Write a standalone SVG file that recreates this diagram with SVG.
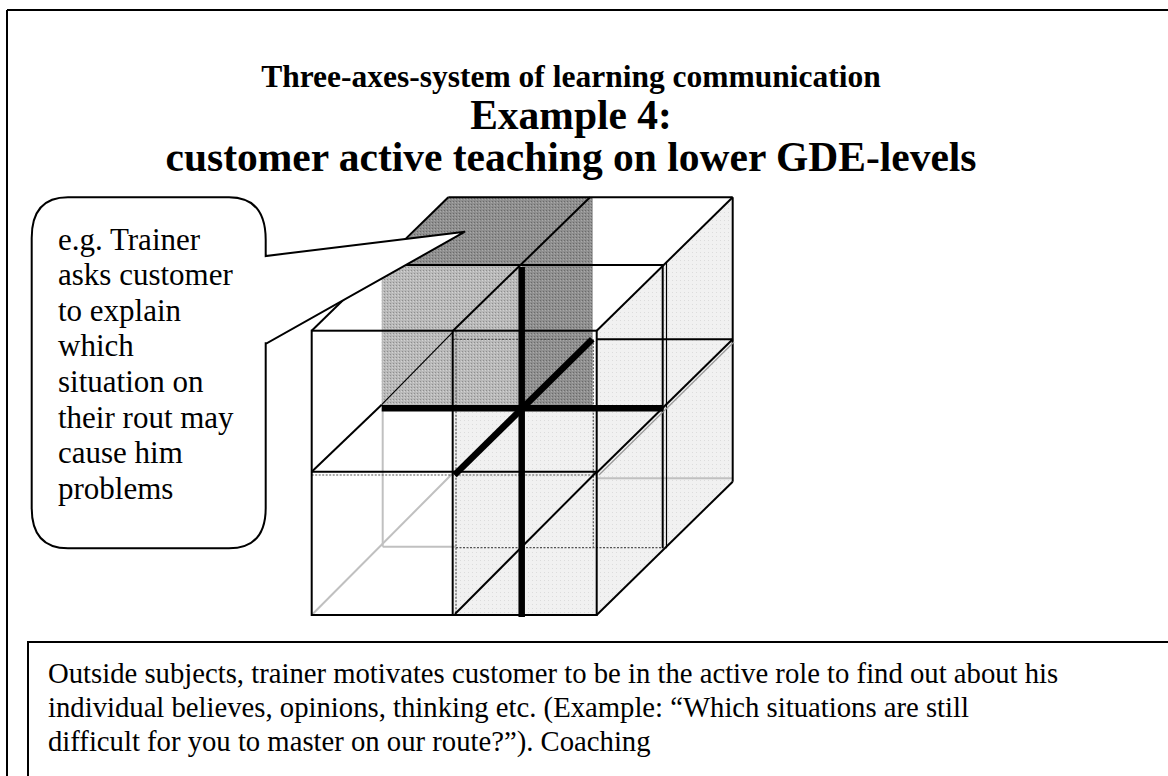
<svg xmlns="http://www.w3.org/2000/svg" width="1168" height="776" viewBox="0 0 1168 776">
  <style>
    .title { font-family: "Liberation Serif", "Times New Roman", serif; font-weight: bold; fill: #000; text-anchor: middle; }
    .body { font-family: "Liberation Serif", "Times New Roman", serif; fill: #000; }
    .edge { stroke: #000; stroke-width: 2; fill: none; }
    .thin { stroke: #000; stroke-width: 1.2; fill: none; }
    .hidden { stroke: #c0c0c0; stroke-width: 2; fill: none; }
    .dash { stroke: #555; stroke-width: 1.2; stroke-dasharray: 2 1.5; fill: none; }
    .axis { stroke: #000; stroke-width: 6.5; fill: none; stroke-linecap: butt; }
  </style>
  <defs>
    <pattern id="lightDots" width="4" height="4" patternUnits="userSpaceOnUse">
      <rect width="4" height="4" fill="#f1f1f1"/>
      <rect x="0" y="0" width="1" height="1" fill="#dcdcdc"/>
    </pattern>
    <pattern id="midDots" width="3" height="3" patternUnits="userSpaceOnUse">
      <rect width="3" height="3" fill="#b9b9b9"/>
      <rect x="0" y="0" width="1" height="1" fill="#8e8e8e"/>
      <rect x="2" y="1" width="1" height="1" fill="#d2d2d2"/>
    </pattern>
    <pattern id="darkDots" width="3" height="3" patternUnits="userSpaceOnUse">
      <rect width="3" height="3" fill="#8f8f8f"/>
      <rect x="0" y="0" width="1" height="1" fill="#6a6a6a"/>
      <rect x="2" y="1" width="1" height="1" fill="#a9a9a9"/>
    </pattern>
  </defs>

  <rect width="1168" height="776" fill="#fff"/>

  <!-- page frame -->
  <g id="frame">
    <line x1="7" y1="10" x2="1168" y2="10" class="edge"/>
    <line x1="7" y1="10" x2="7" y2="776" class="edge"/>
  </g>

  <!-- heading -->
  <g id="heading">
    <text x="571" y="87" class="title" font-size="31.5">Three-axes-system of learning communication</text>
    <text x="571" y="129" class="title" font-size="41.5">Example 4:</text>
    <text x="571" y="171" class="title" font-size="41.5">customer active teaching on lower GDE-levels</text>
  </g>

  <!-- 2x2x2 cube with the three axes -->
  <g id="cube">
    <!-- shaded faces -->
    <polygon points="596.7,330.7 732.7,197.3 732.7,481.7 596.7,615" fill="url(#lightDots)"/>
    <rect x="454" y="407" width="143" height="208" fill="url(#lightDots)"/>
    <polygon points="448.3,197.3 592.7,197.3 592.7,406.7 521.7,406.7 521.7,265 381.7,265" fill="url(#darkDots)"/>
    <rect x="381.7" y="265" width="140" height="141.7" fill="url(#midDots)"/>

    <!-- hidden edges -->
    <line x1="311.7" y1="615" x2="453" y2="473" class="hidden"/>
    <line x1="382.7" y1="408" x2="382.7" y2="546.7" class="hidden"/>
    <line x1="382.7" y1="546.7" x2="456" y2="546.7" class="hidden"/>
    <line x1="456" y1="547.7" x2="663" y2="547.7" class="dash"/>
    <line x1="596.7" y1="478.3" x2="732.7" y2="478.3" class="hidden"/>
    <line x1="453" y1="339.3" x2="593" y2="339.3" class="dash"/>
    <line x1="593.3" y1="339.3" x2="593.3" y2="546.7" class="dash"/>
    <line x1="311.7" y1="475" x2="596.7" y2="475" class="dash"/>
    <line x1="456" y1="330.7" x2="456" y2="615" class="dash"/>

    <!-- top face -->
    <line x1="448.3" y1="197.3" x2="732.7" y2="197.3" class="edge"/>
    <line x1="311.7" y1="330.7" x2="448.3" y2="197.3" class="edge"/>
    <line x1="453" y1="330.7" x2="590" y2="197.3" class="edge"/>
    <line x1="596.7" y1="330.7" x2="732.7" y2="197.3" class="edge"/>
    <line x1="381.7" y1="265" x2="663.3" y2="265" class="edge"/>

    <!-- middle layer edges -->
    <line x1="311.7" y1="471.7" x2="381.7" y2="404.7" class="edge"/>
    <line x1="381.7" y1="404.7" x2="453.3" y2="331.7" class="thin"/>
    <line x1="662.7" y1="264" x2="662.7" y2="548.3" class="edge"/>
    <line x1="666.5" y1="262" x2="666.5" y2="548.3" class="thin"/>

    <!-- right face -->
    <line x1="732.7" y1="197.3" x2="732.7" y2="481.7" class="edge"/>
    <line x1="596.7" y1="339.3" x2="732.7" y2="339.3" class="edge"/>
    <line x1="596.7" y1="472.8" x2="732.7" y2="339.3" class="edge"/>
    <line x1="599" y1="475" x2="734" y2="342" stroke="#999" stroke-width="1.2"/>
    <line x1="596.7" y1="615" x2="732.7" y2="481.7" class="edge"/>
    <line x1="455" y1="614" x2="596.7" y2="471.7" class="edge"/>

    <!-- front face -->
    <rect x="311.7" y="330.7" width="285" height="284.3" class="edge"/>
    <line x1="452.7" y1="330.7" x2="452.7" y2="615" class="edge"/>
    <line x1="311.7" y1="471.7" x2="596.7" y2="471.7" class="edge"/>

    <!-- axes -->
    <line x1="521.7" y1="267" x2="521.7" y2="617" class="axis"/>
    <line x1="381.7" y1="408.3" x2="663.3" y2="408.3" class="axis"/>
    <line x1="454.5" y1="475" x2="592.3" y2="339.3" class="axis" stroke-linecap="round"/>
  </g>

  <!-- speech bubble -->
  <g id="callout">
    <path d="M 68,197.3 L 229,197.3 Q 265.7,197.3 265.7,240 L 265.7,256 L 465,231.7 L 266.7,343.3 L 265.7,343.3 L 265.7,508 Q 265.7,548.3 229,548.3 L 68,548.3 Q 31.7,548.3 31.7,508 L 31.7,238 Q 31.7,197.3 68,197.3 Z" fill="#fff" stroke="#000" stroke-width="2" stroke-linejoin="miter"/>
    <text class="body" font-size="31">
      <tspan x="58" y="249.5">e.g. Trainer</tspan>
      <tspan x="58" y="285.1">asks customer</tspan>
      <tspan x="58" y="320.7">to explain</tspan>
      <tspan x="58" y="356.3">which</tspan>
      <tspan x="58" y="391.9">situation on</tspan>
      <tspan x="58" y="427.5">their rout may</tspan>
      <tspan x="58" y="463.1">cause him</tspan>
      <tspan x="58" y="498.7">problems</tspan>
    </text>
  </g>

  <!-- explanation box -->
  <g id="explanation">
    <rect x="28" y="642" width="1160" height="160" fill="#fff" stroke="#000" stroke-width="2"/>
    <text class="body" font-size="28.7">
      <tspan x="48" y="683">Outside subjects, trainer motivates customer to be in the active role to find out about his</tspan>
      <tspan x="48" y="717">individual believes, opinions, thinking etc. (Example: “Which situations are still</tspan>
      <tspan x="48" y="751">difficult for you to master on our route?”). Coaching</tspan>
    </text>
  </g>
</svg>
